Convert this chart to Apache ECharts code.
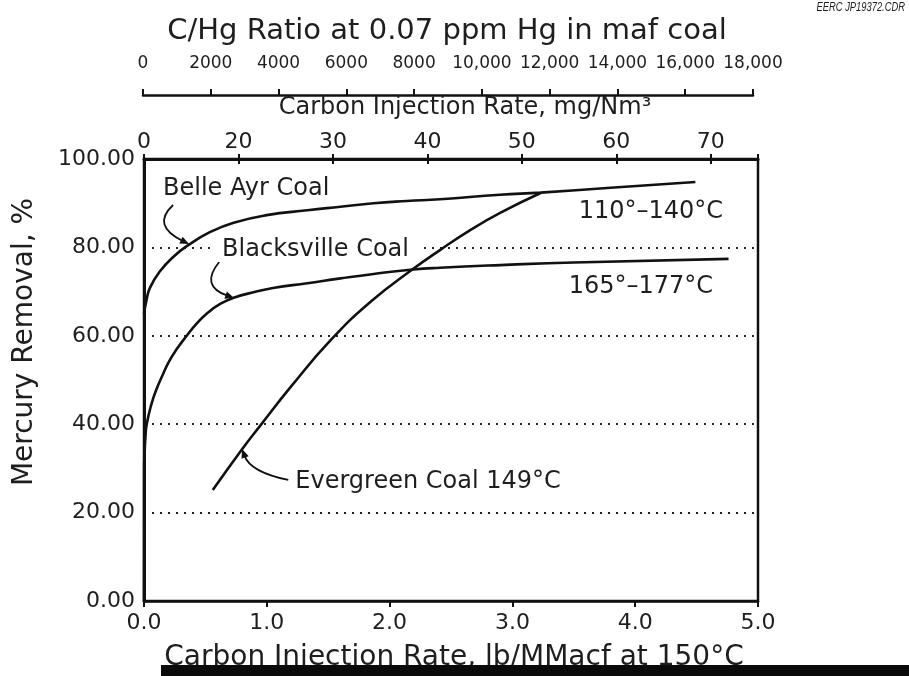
<!DOCTYPE html>
<html><head><meta charset="utf-8">
<script src="https://cdn.jsdelivr.net/npm/echarts@6/dist/echarts.min.js"></script>
<style>html,body{margin:0;padding:0;background:#fff}#c{width:909px;height:676px}</style>
</head><body><div id="c"></div><script>
// ---- data (x: carbon injection rate lb/MMacf, y: mercury removal %) ----
const belleAyr = [[0,65],[0.02,68],[0.049,70.9],[0.13,74.6],[0.24,77.9],[0.36,80.5],[0.54,83.5],[0.73,85.6],[1.0,87.3],[1.33,88.4],[1.6,89.2],[1.87,90.0],[2.14,90.5],[2.41,90.9],[2.9,91.9],[3.23,92.4],[3.8,93.5],[4.49,94.8]];
const blacksville = [[0,0],[0.001,30],[0.006,34],[0.012,37.2],[0.022,40],[0.06,44.5],[0.1,47.8],[0.15,51],[0.2,54],[0.267,57],[0.348,60],[0.43,62.8],[0.51,65],[0.62,67.2],[0.73,68.6],[0.9,69.9],[1.05,70.8],[1.33,71.9],[1.6,73.0],[1.87,74.0],[2.19,75.0],[2.41,75.4],[2.9,76.0],[3.5,76.6],[4.76,77.4]];
const evergreen = [[0.56,25.1],[0.8,34.4],[0.95,39.8],[1.2,48.6],[1.52,59.0],[1.85,67.8],[2.19,75.1],[2.41,79.4],[2.65,83.8],[2.9,87.8],[3.23,92.3]];
const lbTicks = ['0.0','1.0','2.0','3.0','4.0','5.0'];
const yTicks = ['0.00','20.00','40.00','60.00','80.00','100.00'];
const mgTicks = ['0','20','30','40','50','60','70'];
const chgTicks = ['0','2000','4000','6000','8000','10,000','12,000','14,000','16,000','18,000'];
const curveLabels = [
  {text:'Belle Ayr Coal', at:[0.155,93.2]},
  {text:'Blacksville Coal', at:[0.636,79.4], box:true},
  {text:'110\u00b0\u2013140\u00b0C', at:[3.54,88.0]},
  {text:'165\u00b0\u2013177\u00b0C', at:[3.458,71.0]},
  {text:'Evergreen Coal 149\u00b0C', at:[1.232,26.9]}
];
const arrows = [
  {from:[0.237,89.6], ctrl:[0.057,84.95], to:[0.367,80.77]},
  {from:[0.612,76.7], ctrl:[0.453,71.27], to:[0.734,68.55]},
  {from:[1.175,27.38], ctrl:[0.865,29.19], to:[0.799,34.39]}
];

const F = "'DejaVu Sans', sans-serif";
const INK = '#111';
const TXT = '#1e1e1e';
const chart = echarts.init(document.getElementById('c'));

function lineSeries(name, data){
  return {type:'line', name, data, xAxisIndex:0, yAxisIndex:0, showSymbol:false, symbol:'none',
    smooth:0.5, silent:true, lineStyle:{color:INK, width:2.6}, z:5};
}

chart.setOption({
  animation:false,
  backgroundColor:'#fff',
  grid:[
    {left:144, right:151, top:159, bottom:75, show:true, borderColor:INK, borderWidth:2.5, backgroundColor:'transparent'},
    {left:143, right:156, top:85, height:10, show:false}
  ],
  xAxis:[
    {gridIndex:0, type:'value', position:'bottom', min:0, max:5, interval:1,
      axisLine:{show:true, lineStyle:{color:INK, width:2.5}},
      axisTick:{show:true, inside:false, length:6, lineStyle:{color:INK, width:2}},
      axisLabel:{margin:11, fontSize:22, color:TXT, fontFamily:F, formatter:v=>lbTicks[Math.round(v)]},
      splitLine:{show:false}},
    {gridIndex:0, type:'value', position:'top', min:10, max:75, interval:10,
      axisLine:{show:true, lineStyle:{color:INK, width:3}},
      axisTick:{show:true, inside:false, length:5, lineStyle:{color:INK, width:2}},
      axisLabel:{margin:6, fontSize:22, color:TXT, fontFamily:F, formatter:v=>mgTicks[Math.round((v-10)/10)]},
      splitLine:{show:false}},
    {gridIndex:0, type:'value', position:'top', min:10, max:75, interval:10,
      axisLine:{show:false},
      axisTick:{show:true, inside:true, length:5, lineStyle:{color:INK, width:2}},
      axisLabel:{show:false}, splitLine:{show:false}},
    {gridIndex:1, type:'value', position:'top', min:0, max:18000, interval:2000,
      axisLine:{show:true, lineStyle:{color:INK, width:2.5}},
      axisTick:{show:true, inside:false, length:6, lineStyle:{color:INK, width:2}},
      axisLabel:{margin:13, fontSize:17, color:TXT, fontFamily:F, formatter:v=>chgTicks[Math.round(v/2000)]},
      splitLine:{show:false}}
  ],
  yAxis:[
    {gridIndex:0, type:'value', min:0, max:100, interval:20,
      axisLine:{show:true, lineStyle:{color:INK, width:3}},
      axisTick:{show:false},
      axisLabel:{margin:9, fontSize:22, color:TXT, fontFamily:F, formatter:v=>yTicks[Math.round(v/20)]},
      splitLine:{show:true, showMinLine:false, showMaxLine:false, lineStyle:{color:'#222', width:2, type:[2,6]}}},
    {gridIndex:1, type:'value', show:false, min:0, max:1}
  ],
  series:[
    lineSeries('Belle Ayr Coal', belleAyr),
    lineSeries('Blacksville Coal', blacksville),
    lineSeries('Evergreen Coal', evergreen)
  ]
});

function px(p){ return chart.convertToPixel({seriesIndex:0}, p); }
function txt(text, x, y, size, opts){
  opts = opts || {};
  const style = {text:text, fill:TXT, fontSize:size, fontFamily:opts.family||F, fontStyle:opts.fontStyle||'normal',
      textAlign:opts.align||'center', align:opts.align||'center',
      textVerticalAlign:'middle', verticalAlign:'middle'};
  if (opts.box) { style.backgroundColor = '#fff'; style.padding = [0, 9, 0, 9]; }
  return Object.assign({type:'text', x:x, y:y, z:20, silent:true, style:style}, opts.el||{});
}
const g = [];
g.push(txt('C/Hg Ratio at 0.07 ppm Hg in maf coal', 447, 31, 29));
g.push(txt('Carbon Injection Rate, mg/Nm\u00b3', 465, 108, 24));
g.push(txt('Mercury Removal, %', 25, 342, 28, {el:{rotation:Math.PI/2}}));
g.push(txt('Carbon Injection Rate, lb/MMacf at 150\u00b0C', 454, 658, 28));
g.push(txt('EERC JP19372.CDR', 905, 8, 12, {align:'right', family:"'Liberation Sans', sans-serif", fontStyle:'italic', el:{scaleX:0.78}}));
curveLabels.forEach(l=>{
  const p = px(l.at);
  const dx = l.box ? -9 : 0;
  g.push(txt(l.text, p[0] + dx, p[1], 24, {align:'left', box:l.box}));
});
arrows.forEach(a=>{
  const s=px(a.from), c=px(a.ctrl), t=px(a.to);
  const dx=t[0]-c[0], dy=t[1]-c[1], L=Math.hypot(dx,dy), ux=dx/L, uy=dy/L;
  const len=9, w=3.8, bx=t[0]-ux*len, by=t[1]-uy*len;
  g.push({type:'bezierCurve', z:10, silent:true, shape:{x1:s[0],y1:s[1],cpx1:c[0],cpy1:c[1],x2:bx+ux*2,y2:by+uy*2},
    style:{stroke:INK, lineWidth:1.8, fill:null}});
  g.push({type:'polygon', z:10, silent:true, shape:{points:[[t[0],t[1]],[bx-uy*w,by+ux*w],[bx+uy*w,by-ux*w]]},
    style:{fill:INK, stroke:null}});
});
g.push({type:'rect', z:30, silent:true, shape:{x:161, y:665, width:748, height:11}, style:{fill:'#0a0a0a'}});
chart.setOption({graphic:{elements:g}});
</script></body></html>
